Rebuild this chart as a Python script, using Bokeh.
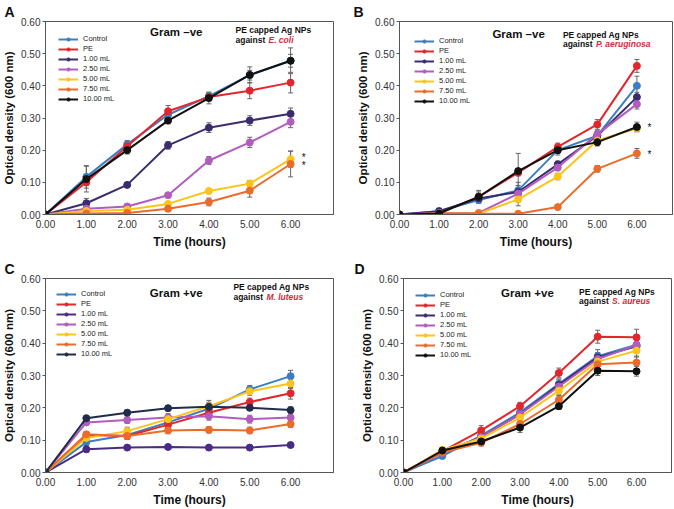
from bokeh.plotting import figure
from bokeh.layouts import column, row
from bokeh.models import (ColumnDataSource, Whisker, TeeHead, Legend, LegendItem,
                          Range1d, FixedTicker, NumeralTickFormatter, Label)
from bokeh.embed import file_html
from bokeh.resources import INLINE

FONT = "Liberation Sans"

hours = [0, 1, 2, 3, 4, 5, 6]
y_ticks = [0.0, 0.1, 0.2, 0.3, 0.4, 0.5, 0.6]
series_names = ["Control", "PE", "1.00 mL", "2.50 mL", "5.00 mL", "7.50 mL", "10.00 mL"]
colors = ["#3a80c1", "#e3262d", "#3b2c6e", "#b25cc0", "#fcc419", "#ec6b2a", "#111111"]
colors_c = ["#3a80c1", "#e3262d", "#4a2c85", "#b25cc0", "#fcc419", "#ec6b2a", "#1f2d4a"]

# Panel A - E. coli (Gram -ve)
ecoli_control = [0, 0.117, 0.218, 0.310, 0.368, 0.433, 0.478]
ecoli_pe = [0, 0.100, 0.212, 0.321, 0.365, 0.385, 0.410]
ecoli_1 = [0, 0.035, 0.092, 0.215, 0.270, 0.292, 0.313]
ecoli_25 = [0, 0.018, 0.025, 0.060, 0.168, 0.224, 0.288]
ecoli_5 = [0, 0.011, 0.015, 0.033, 0.073, 0.096, 0.172]
ecoli_75 = [0, 0.003, 0.005, 0.018, 0.039, 0.074, 0.157]
ecoli_10 = [0, 0.110, 0.200, 0.292, 0.362, 0.434, 0.478]
ecoli_err_control = [0, 0.035, 0.012, 0.010, 0.012, 0.015, 0.020]
ecoli_err_pe = [0, 0.010, 0.010, 0.018, 0.012, 0.025, 0.032]
ecoli_err_1 = [0, 0.015, 0.005, 0.012, 0.015, 0.015, 0.018]
ecoli_err_25 = [0, 0.004, 0.004, 0.006, 0.012, 0.016, 0.018]
ecoli_err_5 = [0, 0.003, 0.003, 0.005, 0.008, 0.010, 0.025]
ecoli_err_75 = [0, 0.002, 0.002, 0.008, 0.012, 0.020, 0.040]
ecoli_err_10 = [0, 0.040, 0.012, 0.010, 0.018, 0.025, 0.040]

# Panel B - P. aeruginosa (Gram -ve)
paer_control = [0, 0.010, 0.045, 0.075, 0.200, 0.245, 0.400]
paer_pe = [0, 0.005, 0.055, 0.130, 0.210, 0.280, 0.462]
paer_1 = [0, 0.010, 0.050, 0.070, 0.156, 0.245, 0.365]
paer_25 = [0, 0.005, 0.005, 0.065, 0.146, 0.250, 0.343]
paer_5 = [0, 0.003, 0.003, 0.047, 0.118, 0.230, 0.268]
paer_75 = [0, 0.002, 0.002, 0.002, 0.023, 0.142, 0.190]
paer_10 = [0, 0.003, 0.055, 0.135, 0.200, 0.225, 0.272]
paer_err_control = [0, 0.010, 0.010, 0.025, 0.010, 0.012, 0.030]
paer_err_pe = [0, 0.005, 0.015, 0.010, 0.012, 0.015, 0.020]
paer_err_1 = [0, 0.005, 0.010, 0.020, 0.010, 0.010, 0.015]
paer_err_25 = [0, 0.003, 0.003, 0.020, 0.010, 0.012, 0.015]
paer_err_5 = [0, 0.002, 0.002, 0.020, 0.010, 0.012, 0.010]
paer_err_75 = [0, 0.002, 0.002, 0.002, 0.005, 0.010, 0.015]
paer_err_10 = [0, 0.005, 0.020, 0.055, 0.015, 0.012, 0.015]

# Panel C - M. luteus (Gram +ve)
mlut_control = [0, 0.094, 0.116, 0.155, 0.197, 0.257, 0.298]
mlut_pe = [0, 0.116, 0.113, 0.148, 0.185, 0.218, 0.245]
mlut_1 = [0, 0.072, 0.077, 0.079, 0.077, 0.077, 0.085]
mlut_25 = [0, 0.155, 0.162, 0.170, 0.174, 0.165, 0.170]
mlut_5 = [0, 0.107, 0.128, 0.165, 0.205, 0.251, 0.275]
mlut_75 = [0, 0.118, 0.113, 0.130, 0.132, 0.130, 0.150]
mlut_10 = [0, 0.168, 0.185, 0.199, 0.203, 0.200, 0.193]
mlut_err_control = [0, 0.010, 0.010, 0.010, 0.010, 0.012, 0.018]
mlut_err_pe = [0, 0.010, 0.010, 0.010, 0.012, 0.012, 0.018]
mlut_err_1 = [0, 0.010, 0.005, 0.005, 0.005, 0.005, 0.005]
mlut_err_25 = [0, 0.008, 0.010, 0.012, 0.012, 0.012, 0.010]
mlut_err_5 = [0, 0.010, 0.012, 0.012, 0.012, 0.012, 0.015]
mlut_err_75 = [0, 0.008, 0.010, 0.010, 0.010, 0.010, 0.010]
mlut_err_10 = [0, 0.006, 0.008, 0.008, 0.020, 0.008, 0.010]

# Panel D - S. aureus (Gram +ve)
saur_control = [0, 0.051, 0.114, 0.186, 0.274, 0.360, 0.395]
saur_pe = [0, 0.065, 0.130, 0.205, 0.308, 0.420, 0.418]
saur_1 = [0, 0.062, 0.110, 0.180, 0.271, 0.356, 0.390]
saur_25 = [0, 0.060, 0.110, 0.180, 0.266, 0.351, 0.394]
saur_5 = [0, 0.070, 0.105, 0.170, 0.253, 0.343, 0.377]
saur_75 = [0, 0.062, 0.092, 0.150, 0.225, 0.335, 0.340]
saur_10 = [0, 0.068, 0.096, 0.139, 0.205, 0.315, 0.313]
saur_err_control = [0, 0.005, 0.010, 0.012, 0.015, 0.020, 0.015]
saur_err_pe = [0, 0.005, 0.015, 0.012, 0.015, 0.020, 0.025]
saur_err_1 = [0, 0.005, 0.010, 0.010, 0.015, 0.015, 0.020]
saur_err_25 = [0, 0.005, 0.010, 0.010, 0.015, 0.015, 0.020]
saur_err_5 = [0, 0.005, 0.010, 0.010, 0.015, 0.015, 0.020]
saur_err_75 = [0, 0.005, 0.010, 0.012, 0.015, 0.015, 0.020]
saur_err_10 = [0, 0.005, 0.010, 0.015, 0.010, 0.015, 0.015]

star_a_y = [0.178, 0.153]
star_b_y = [0.271, 0.188]
star_x = 6.27


def make_panel(letter, gram, species, vals, errs, cols, stars_y,
               w, h, bl, br, bt, bb, xmax, leg_margin,
               gram_xy, note_xy, letter_dx):
    p = figure(width=w, height=h, output_backend="svg", toolbar_location=None,
               x_range=Range1d(0, xmax), y_range=Range1d(0, 0.6),
               min_border_left=bl, min_border_right=br,
               min_border_top=bt, min_border_bottom=bb,
               title=letter, title_location="above")
    p.title.align = "left"
    p.title.offset = -(bl - letter_dx)
    p.title.standoff = 0
    p.title.vertical_align = "top"
    p.title.text_font = FONT
    p.title.text_font_size = "14px"
    p.title.text_font_style = "bold"
    p.title.text_color = "#111111"

    p.xgrid.visible = False
    p.ygrid.visible = False
    p.outline_line_color = "#555555"
    p.outline_line_width = 1
    p.background_fill_color = "white"

    p.xaxis.ticker = FixedTicker(ticks=hours)
    p.yaxis.ticker = FixedTicker(ticks=y_ticks)
    p.xaxis.formatter = NumeralTickFormatter(format="0.00")
    p.yaxis.formatter = NumeralTickFormatter(format="0.00")
    for ax in (p.xaxis[0], p.yaxis[0]):
        ax.axis_line_color = "#555555"
        ax.major_tick_line_color = "#555555"
        ax.minor_tick_line_color = None
        ax.major_label_text_font = FONT
        ax.major_label_text_font_size = "10px"
        ax.major_label_text_color = "#333333"
        ax.axis_label_text_font = FONT
        ax.axis_label_text_font_style = "bold"
        ax.axis_label_text_color = "#111111"
    p.xaxis.major_tick_in = 0
    p.xaxis.major_tick_out = 0
    p.xaxis.major_label_standoff = 5
    p.xaxis.axis_label = "Time (hours)"
    p.xaxis.axis_label_text_font_size = "12px"
    p.xaxis.axis_label_standoff = 4
    p.yaxis.major_tick_in = 0
    p.yaxis.major_tick_out = 3
    p.yaxis.major_label_standoff = 2
    p.yaxis.axis_label = "Optical density (600 nm)"
    p.yaxis.axis_label_text_font_size = "11.5px"
    p.yaxis.axis_label_standoff = 3

    items = []
    for name, v, e, c in zip(series_names, vals, errs, cols):
        src = ColumnDataSource(dict(x=hours, y=v))
        lr = p.line("x", "y", source=src, line_color=c, line_width=2)
        sr = p.scatter("x", "y", source=src, size=7, fill_color=c, line_color=c)
        xs = [hx for hx, ev in zip(hours, e) if ev > 0]
        up = [yv + ev for yv, ev in zip(v, e) if ev > 0]
        lo = [yv - ev for yv, ev in zip(v, e) if ev > 0]
        wsrc = ColumnDataSource(dict(x=xs, upper=up, lower=lo))
        wh = Whisker(base="x", upper="upper", lower="lower", source=wsrc,
                     line_color="#666666", line_width=1,
                     upper_head=TeeHead(size=5, line_color="#666666", line_width=1),
                     lower_head=TeeHead(size=5, line_color="#666666", line_width=1))
        p.add_layout(wh)
        items.append(LegendItem(label=name, renderers=[lr, sr]))

    leg = Legend(items=items, location="top_left", border_line_color=None,
                 background_fill_alpha=0, label_text_font=FONT,
                 label_text_font_size="7.5px", label_text_color="#222222",
                 glyph_width=20, glyph_height=8, label_height=8,
                 spacing=1, padding=0, margin=leg_margin, label_standoff=5)
    p.add_layout(leg)

    p.add_layout(Label(x=gram_xy[0], y=gram_xy[1], text=gram, text_font=FONT,
                       text_font_size="11.5px", text_font_style="bold",
                       text_align="center", text_baseline="middle",
                       text_color="#111111"))
    p.add_layout(Label(x=note_xy[0], y=note_xy[1], text="PE capped Ag NPs",
                       text_font=FONT, text_font_size="8.5px", text_font_style="bold",
                       text_align="left", text_baseline="top", text_color="#111111"))
    p.add_layout(Label(x=note_xy[0], y=note_xy[2], text="against", text_font=FONT,
                       text_font_size="8.5px", text_font_style="bold",
                       text_align="left", text_baseline="top", text_color="#111111"))
    p.add_layout(Label(x=note_xy[0], y=note_xy[2], x_offset=33, text=species,
                       text_font=FONT, text_font_size="8.5px",
                       text_font_style="bold italic", text_align="left",
                       text_baseline="top", text_color="#d42a3c"))

    for sy in stars_y:
        p.add_layout(Label(x=star_x, y=sy, text="*", text_font=FONT,
                           text_font_size="10px", text_align="left",
                           text_baseline="middle", text_color="#111111"))
    return p


pA = make_panel("A", "Gram \u2013ve", "E. coli",
                [ecoli_control, ecoli_pe, ecoli_1, ecoli_25, ecoli_5, ecoli_75, ecoli_10],
                [ecoli_err_control, ecoli_err_pe, ecoli_err_1, ecoli_err_25,
                 ecoli_err_5, ecoli_err_75, ecoli_err_10],
                colors, star_a_y, 337, 255, 43, 4, 21, 39, 7.05, 13,
                (3.2, 0.566), (4.65, 0.588, 0.558), 2)
pB = make_panel("B", "Gram \u2013ve", "P. aeruginosa",
                [paer_control, paer_pe, paer_1, paer_25, paer_5, paer_75, paer_10],
                [paer_err_control, paer_err_pe, paer_err_1, paer_err_25,
                 paer_err_5, paer_err_75, paer_err_10],
                colors, star_b_y, 337, 255, 62, 2, 19, 41, 6.9, 15,
                (3.01, 0.56), (4.13, 0.575, 0.547), 16)
pC = make_panel("C", "Gram +ve", "M. luteus",
                [mlut_control, mlut_pe, mlut_1, mlut_25, mlut_5, mlut_75, mlut_10],
                [mlut_err_control, mlut_err_pe, mlut_err_1, mlut_err_25,
                 mlut_err_5, mlut_err_75, mlut_err_10],
                colors_c, [], 337, 254, 43, 4, 23, 35, 7.05, 11,
                (3.2, 0.556), (4.6, 0.588, 0.558), 2)
pD = make_panel("D", "Gram +ve", "S. aureus",
                [saur_control, saur_pe, saur_1, saur_25, saur_5, saur_75, saur_10],
                [saur_err_control, saur_err_pe, saur_err_1, saur_err_25,
                 saur_err_5, saur_err_75, saur_err_10],
                colors, [], 337, 254, 66, 3, 23, 37, 6.9, 12,
                (3.19, 0.555), (4.52, 0.575, 0.547), 17)

layout = column(row(pA, pB), row(pC, pD))
open("out.html", "w").write(file_html(layout, INLINE))
